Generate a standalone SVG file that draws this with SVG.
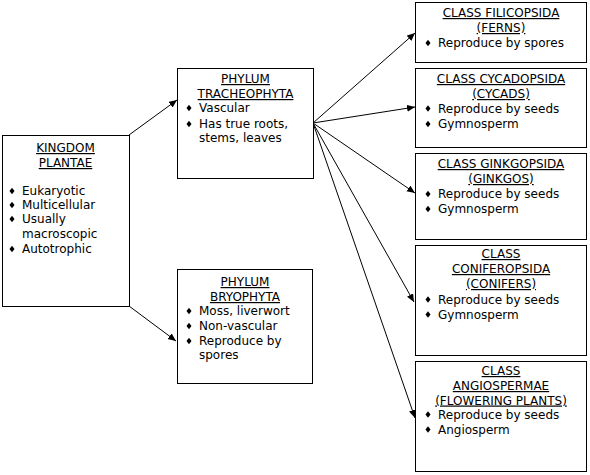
<svg xmlns="http://www.w3.org/2000/svg" xmlns:xlink="http://www.w3.org/1999/xlink" width="590" height="475" viewBox="0 0 590 475">
<defs>
<marker id="ah" markerUnits="userSpaceOnUse" markerWidth="9" markerHeight="8" refX="8" refY="3.5" orient="auto">
<path d="M0,0 L8,3.5 L0,7 Z" fill="#000"/>
</marker>
<path id="dm" d="M0,-3.2 L2.5,0 L0,3.2 L-2.5,0 Z" fill="#000"/>
<style>
.box{fill:#fff;stroke:#000;stroke-width:1}
text{font-family:"DejaVu Sans","Verdana",sans-serif;font-size:12px;fill:#000}
.h{text-anchor:middle;text-decoration:underline}
.c{stroke:#000;stroke-width:1;fill:none;marker-end:url(#ah)}
</style>
</defs>
<rect width="590" height="475" fill="#fff"/>
<g id="connectors">
<line class="c" x1="129" y1="135" x2="177" y2="100"/>
<line class="c" x1="129" y1="306" x2="176" y2="341"/>
<line class="c" x1="313" y1="123" x2="415" y2="33"/>
<line class="c" x1="313" y1="123" x2="415" y2="107"/>
<line class="c" x1="313" y1="123" x2="415" y2="193"/>
<line class="c" x1="313" y1="123" x2="414" y2="302"/>
<line class="c" x1="313" y1="123" x2="415" y2="418"/>
</g>
<g id="kingdom">
<rect class="box" x="2.5" y="135.5" width="127" height="171"/>
<text class="h" x="65.5" y="152">KINGDOM</text>
<text class="h" x="65.5" y="167">PLANTAE</text>
<use xlink:href="#dm" x="12" y="191"/><text x="22" y="195">Eukaryotic</text>
<use xlink:href="#dm" x="12" y="205"/><text x="22" y="209">Multicellular</text>
<use xlink:href="#dm" x="12" y="219"/><text x="22" y="223">Usually</text>
<text x="22" y="238">macroscopic</text>
<use xlink:href="#dm" x="12" y="249"/><text x="22" y="253">Autotrophic</text>
</g>
<g id="tracheophyta">
<rect class="box" x="177.5" y="68.5" width="136" height="110"/>
<text class="h" x="245.5" y="83">PHYLUM</text>
<text class="h" x="245.5" y="98">TRACHEOPHYTA</text>
<use xlink:href="#dm" x="189" y="108"/><text x="199" y="112">Vascular</text>
<use xlink:href="#dm" x="189" y="124"/><text x="199" y="128">Has true roots,</text>
<text x="199" y="142">stems, leaves</text>
</g>
<g id="bryophyta">
<rect class="box" x="177.5" y="269.5" width="135" height="114"/>
<text class="h" x="245" y="286">PHYLUM</text>
<text class="h" x="245" y="301">BRYOPHYTA</text>
<use xlink:href="#dm" x="189" y="311"/><text x="199" y="315">Moss, liverwort</text>
<use xlink:href="#dm" x="189" y="326"/><text x="199" y="330">Non-vascular</text>
<use xlink:href="#dm" x="189" y="341"/><text x="199" y="345">Reproduce by</text>
<text x="199" y="359">spores</text>
</g>
<g id="filicopsida">
<rect class="box" x="415.5" y="2.5" width="171" height="60"/>
<text class="h" x="501" y="17">CLASS FILICOPSIDA</text>
<text class="h" x="501" y="32">(FERNS)</text>
<use xlink:href="#dm" x="428" y="43"/><text x="438" y="47">Reproduce by spores</text>
</g>
<g id="cycadopsida">
<rect class="box" x="415.5" y="68.5" width="171" height="79"/>
<text class="h" x="501" y="83">CLASS CYCADOPSIDA</text>
<text class="h" x="501" y="98">(CYCADS)</text>
<use xlink:href="#dm" x="428" y="108.5"/><text x="438" y="112.5">Reproduce by seeds</text>
<use xlink:href="#dm" x="428" y="124"/><text x="438" y="128">Gymnosperm</text>
</g>
<g id="ginkgopsida">
<rect class="box" x="415.5" y="153.5" width="171" height="86"/>
<text class="h" x="501" y="168">CLASS GINKGOPSIDA</text>
<text class="h" x="501" y="183">(GINKGOS)</text>
<use xlink:href="#dm" x="428" y="194"/><text x="438" y="198">Reproduce by seeds</text>
<use xlink:href="#dm" x="428" y="209"/><text x="438" y="213">Gymnosperm</text>
</g>
<g id="coniferopsida">
<rect class="box" x="415.5" y="245.5" width="171" height="110"/>
<text class="h" x="501" y="258">CLASS</text>
<text class="h" x="501" y="273">CONIFEROPSIDA</text>
<text class="h" x="501" y="288">(CONIFERS)</text>
<use xlink:href="#dm" x="428" y="299.5"/><text x="438" y="303.5">Reproduce by seeds</text>
<use xlink:href="#dm" x="428" y="314.5"/><text x="438" y="318.5">Gymnosperm</text>
</g>
<g id="angiospermae">
<rect class="box" x="415.5" y="361.5" width="171" height="110"/>
<text class="h" x="501" y="375">CLASS</text>
<text class="h" x="501" y="390">ANGIOSPERMAE</text>
<text class="h" x="501" y="404.5">(FLOWERING PLANTS)</text>
<use xlink:href="#dm" x="428" y="414.5"/><text x="438" y="418.5">Reproduce by seeds</text>
<use xlink:href="#dm" x="428" y="429.5"/><text x="438" y="433.5">Angiosperm</text>
</g>
</svg>
